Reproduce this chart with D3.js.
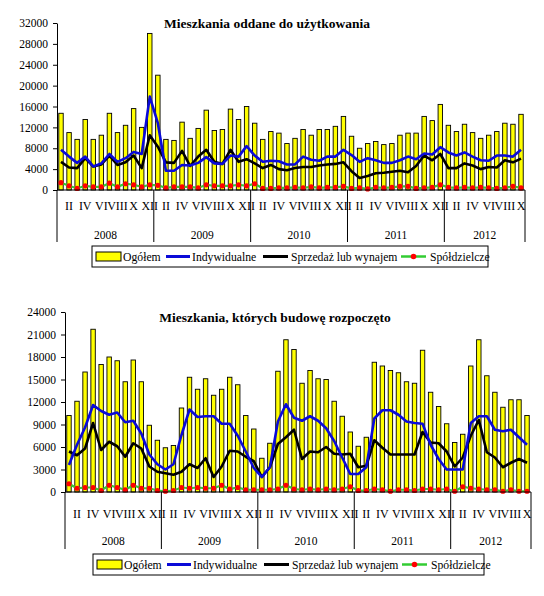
<!DOCTYPE html>
<html><head><meta charset="utf-8">
<script src="https://cdn.jsdelivr.net/npm/d3@7"></script>
<style>
html,body{margin:0;padding:0;background:#fff;}
svg{display:block;font-family:"Liberation Serif","Times New Roman",serif;}
</style></head>
<body><svg id="c" width="544" height="596"></svg>
<script>
// ---------- DATA ----------
const monthLabels = ["I","II","III","IV","V","VI","VII","VIII","IX","X","XI","XII"];
const years = ["2008","2009","2010","2011","2012"];
const monthsPerYear = [12,12,12,12,10];
const seriesNames = ["Ogółem","Indywidualne","Sprzedaż lub wynajem","Spółdzielcze"];

// Panel 1: Mieszkania oddane do użytkowania
const title1 = "Mieszkania oddane do użytkowania";
const yTicks1 = [0,4000,8000,12000,16000,20000,24000,28000,32000];
const oddOgolem = [
 14700,11000,9700,13500,9700,10500,14700,11000,12400,15600,12000,30000,
 22000,9700,9500,13000,9900,11800,15300,11400,11600,15500,13500,16000,
 12800,9700,11200,10900,8900,9900,11600,10500,11600,11600,12200,14100,
 10300,8000,8900,9300,8700,8900,10500,10900,10900,14100,13300,16400,
 12400,11200,12600,11000,9900,10500,11200,12800,12600,14500];
const oddIndyw = [
 7700,6400,5200,6400,4500,5100,6900,5400,6100,7300,6900,17900,
 12800,3700,3700,4800,4700,5200,6300,5100,5000,6600,6400,8400,
 6600,5400,5600,5500,4900,4900,6400,5800,5600,6400,6400,7700,
 6700,5400,6100,5700,5200,5200,5700,6400,5900,7000,6800,8200,
 7200,6600,7200,6400,5700,5600,6600,6600,6400,7700];
const oddSprzedaz = [
 5400,4300,4200,6100,4500,4900,6600,4800,5300,6600,4200,10500,
 8300,5300,5200,7500,4600,6400,7700,5400,5000,7700,5400,5900,
 5100,4200,4800,4000,3800,4200,4400,4400,4700,4900,5000,5300,
 3600,2300,2700,3200,3300,3500,3700,3400,4600,6600,5700,6900,
 4200,4200,5100,4700,4000,4400,4300,5700,5300,6000];
const oddSpold = [
 1400,800,300,800,600,600,1300,600,1200,1000,600,1000,
 900,400,600,600,600,400,1000,800,800,800,1000,800,
 1200,300,300,400,400,500,400,600,400,500,500,700,
 300,400,200,500,400,500,700,700,300,400,500,1000,
 500,400,500,400,500,400,300,400,700,400];

// Panel 2: Mieszkania, których budowę rozpoczęto
const title2 = "Mieszkania, których budowę rozpoczęto";
const yTicks2 = [0,3000,6000,9000,12000,15000,18000,21000,24000];
const rozOgolem = [
 10200,12100,16000,21700,17000,18000,17500,14700,17600,14700,8900,6900,
 5900,6200,11200,15300,13700,15100,12900,13700,15300,14300,10200,8400,
 4500,6500,16100,20300,19000,14500,16200,15100,15000,12100,10100,8000,
 6100,7300,17300,16800,16200,15900,14700,14500,18900,13300,11400,9100,
 6600,7700,16800,20300,15500,13300,11300,12300,12300,10200];
const rozIndyw = [
 3600,6300,8600,11600,10800,10300,10600,9300,9500,7800,5000,3700,
 3000,3700,7600,11000,10000,10100,10100,9100,9100,7500,5400,3200,
 2000,3300,9400,11700,9900,9500,10100,9500,8500,6800,4600,2400,
 2400,3300,9800,10900,10900,10300,9400,9200,9100,6300,4400,3000,
 3000,3000,9200,10100,10100,8300,8100,8300,7300,6300];
const rozSprzedaz = [
 5400,4900,5800,9200,5600,6700,6100,4700,6500,5800,3400,2700,
 2500,2300,2700,3700,3200,4500,2000,3400,5500,5400,4700,4100,
 2000,3300,6400,7300,8300,4400,5400,5300,6000,5100,5000,5100,
 3300,3500,6900,5900,5000,5000,5000,5000,8000,6600,6500,5400,
 3400,4600,7500,9600,5300,4600,3300,3900,4400,3900];
const rozSpold = [
 1100,500,600,600,200,900,600,300,900,500,500,200,
 100,200,600,500,600,500,500,900,400,600,300,300,
 300,300,400,900,400,300,400,300,400,300,400,700,
 200,200,400,300,100,300,300,200,400,400,300,400,
 100,700,500,400,300,300,100,300,100,100];

// ---------- DRAW ----------
const colors = {bar:"#ffff00", ind:"#0a0ad8", spr:"#000000", spLine:"#33cc33", spDot:"#ff0000"};
const cats = [];
years.forEach((y,yi)=>{ for(let m=0;m<monthsPerYear[yi];m++) cats.push({year:y, m:m, key:y+"-"+m}); });

const svg = d3.select("#c");

function panel(cfg){
  const g = svg.append("g");
  const x = d3.scaleBand().domain(cats.map(d=>d.key)).range([cfg.x0,cfg.x1]).paddingInner(0.45).paddingOuter(0.22);
  const y = d3.scaleLinear().domain([0,cfg.ymax]).range([cfg.y0,cfg.y1]);
  const cx = k => x(k)+x.bandwidth()/2;

  // title
  g.append("text").attr("x",cfg.tx).attr("y",cfg.ty).attr("text-anchor","middle")
    .attr("font-weight","bold").attr("font-size",13.5).text(cfg.title);

  // bars
  g.selectAll("rect.bar").data(cfg.total).join("rect")
    .attr("x",(d,i)=>x(cats[i].key)).attr("width",x.bandwidth())
    .attr("y",d=>y(d)).attr("height",d=>y(0)-y(d))
    .attr("fill",colors.bar).attr("stroke","#000").attr("stroke-width",0.9);

  // lines
  const line = d3.line().x((d,i)=>cx(cats[i].key)).y(d=>y(d));
  g.append("path").datum(cfg.spold).attr("d",line).attr("fill","none").attr("stroke",colors.spLine).attr("stroke-width",2.2);
  g.selectAll("circle.sp").data(cfg.spold).join("circle")
    .attr("cx",(d,i)=>cx(cats[i].key)).attr("cy",d=>y(d)).attr("r",2.6).attr("fill",colors.spDot);
  g.append("path").datum(cfg.spr).attr("d",line).attr("fill","none").attr("stroke",colors.spr).attr("stroke-width",2.6).attr("stroke-linejoin","round");
  g.append("path").datum(cfg.ind).attr("d",line).attr("fill","none").attr("stroke",colors.ind).attr("stroke-width",2.6).attr("stroke-linejoin","round");

  // y axis
  const ya = g.append("g").attr("transform",`translate(${cfg.x0},0)`)
    .call(d3.axisLeft(y).tickValues(cfg.ticks).tickSize(4).tickSizeOuter(0).tickFormat(d3.format("d")));
  ya.select(".domain").attr("stroke","#000");
  ya.selectAll("text").attr("font-size",11.5).attr("font-family","Liberation Serif").attr("fill","#000").attr("dx",-2);
  ya.selectAll("line").attr("stroke","#000");

  // x axis baseline
  g.append("line").attr("x1",cfg.x0).attr("x2",cfg.x1).attr("y1",cfg.y0).attr("y2",cfg.y0).attr("stroke","#000");

  // month labels via axis
  const xa = g.append("g").attr("transform",`translate(0,${cfg.y0})`)
    .call(d3.axisBottom(x).tickSize(0).tickFormat(k=>{const c=cats.find(d=>d.key===k); return (c.m%2===1)?monthLabels[c.m]:"";}));
  xa.select(".domain").remove();
  xa.selectAll("text").attr("font-size",12).attr("font-family","Liberation Serif").attr("fill","#000").attr("y",cfg.my-cfg.y0).attr("dy","0.35em");

  // year separators and labels
  let idx=0;
  const bounds=[cfg.x0];
  years.forEach((yr,yi)=>{
    const first=cats[idx].key, last=cats[idx+monthsPerYear[yi]-1].key;
    idx+=monthsPerYear[yi];
    const right = yi===years.length-1 ? cfg.x1 : (x(last)+x.bandwidth()+x(cats[idx].key))/2;
    const left = bounds[bounds.length-1];
    bounds.push(right);
    g.append("text").attr("x",(left+right)/2).attr("y",cfg.yy).attr("text-anchor","middle").attr("dy","0.35em")
      .attr("font-size",11.5).text(yr);
  });
  bounds.forEach(b=>{
    g.append("line").attr("x1",b).attr("x2",b).attr("y1",cfg.y0).attr("y2",cfg.sepEnd).attr("stroke","#000");
  });

  // legend
  const L = g.append("g");
  L.append("rect").attr("x",cfg.lx).attr("y",cfg.ly).attr("width",cfg.lw).attr("height",21)
    .attr("fill","#fff").attr("stroke","#000").attr("stroke-width",1);
  const cy = cfg.ly+10.5, fs=11.7;
  const base = cfg.lx;
  L.append("rect").attr("x",base+4).attr("y",cy-4.5).attr("width",25).attr("height",9).attr("fill",colors.bar).attr("stroke","#000");
  L.append("text").attr("x",base+31).attr("y",cy).attr("dy","0.35em").attr("font-size",fs).text(seriesNames[0]);
  L.append("line").attr("x1",base+74).attr("x2",base+98).attr("y1",cy).attr("y2",cy).attr("stroke",colors.ind).attr("stroke-width",3);
  L.append("text").attr("x",base+100).attr("y",cy).attr("dy","0.35em").attr("font-size",fs).text(seriesNames[1]);
  L.append("line").attr("x1",base+171).attr("x2",base+196).attr("y1",cy).attr("y2",cy).attr("stroke",colors.spr).attr("stroke-width",3);
  L.append("text").attr("x",base+199).attr("y",cy).attr("dy","0.35em").attr("font-size",fs).text(seriesNames[2]);
  L.append("line").attr("x1",base+309).attr("x2",base+334).attr("y1",cy).attr("y2",cy).attr("stroke",colors.spLine).attr("stroke-width",2.5);
  L.append("circle").attr("cx",base+321.5).attr("cy",cy).attr("r",2.8).attr("fill",colors.spDot);
  L.append("text").attr("x",base+338).attr("y",cy).attr("dy","0.35em").attr("font-size",fs).text(seriesNames[3]);
}

panel({x0:57,x1:525,y0:190,y1:23,ymax:32000,ticks:yTicks1,title:title1,tx:267,ty:28,
  total:oddOgolem,ind:oddIndyw,spr:oddSprzedaz,spold:oddSpold,
  my:206,yy:235,sepEnd:242,lx:92,ly:246,lw:396});
panel({x0:65,x1:531,y0:492,y1:312,ymax:24000,ticks:yTicks2,title:title2,tx:275,ty:322,
  total:rozOgolem,ind:rozIndyw,spr:rozSprzedaz,spold:rozSpold,
  my:514,yy:541,sepEnd:549,lx:93,ly:554,lw:391});
</script></body></html>
